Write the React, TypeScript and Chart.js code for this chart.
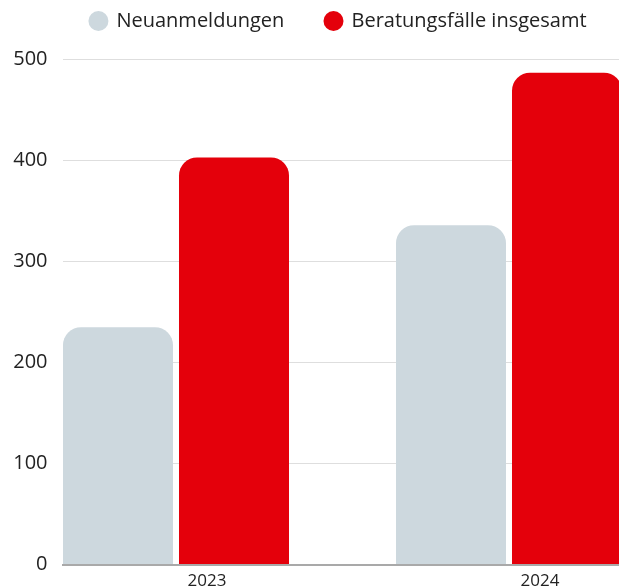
import React, { useEffect, useRef } from 'react';
import { Chart, registerables } from 'chart.js';

Chart.register(...registerables);

// ---- data ----
const years = ['2023', '2024'];
const seriesLabels = ['Neuanmeldungen', 'Beratungsfälle insgesamt'];
const neuanmeldungen = [235, 336];
const beratungsfaelle = [403, 487];
const yTicks = [0, 100, 200, 300, 400, 500];

// ---- styles ----
const GREY = '#CDD8DE';
const RED = '#E4000B';
const TEXT = '#222222';
const FONT = "'Open Sans', 'Noto Sans', sans-serif";
const CANVAS_W = 677;
const CANVAS_H = 597;
const LEGEND_HEIGHT = 89.7;

export default function App() {
  const ref = useRef<HTMLCanvasElement>(null);

  useEffect(() => {
    const canvas = ref.current;
    if (!canvas) return;
    Chart.defaults.font.family = FONT;

    const legendSizer = {
      id: 'legendSizer',
      afterInit(chart: any) {
        const lg = chart.legend;
        if (!lg) return;
        const orig = lg.fit.bind(lg);
        lg.fit = function () {
          orig();
          if (lg.options && lg.options.display) lg.height = LEGEND_HEIGHT;
        };
      },
    };

    const yearNums = years.map((y) => Number(y));
    const xMin = yearNums[0] - 0.34084;
    const xMax = yearNums[yearNums.length - 1] + 0.5045;

    const common = {
      borderWidth: 0,
      borderRadius: 18,
      borderSkipped: 'start' as const,
      categoryPercentage: 0.6967,
      barPercentage: 0.9483,
      pointStyle: 'circle' as const,
    };

    const chart = new Chart(canvas, {
      type: 'bar',
      data: {
        labels: years,
        datasets: [
          { ...common, label: seriesLabels[0], data: neuanmeldungen, backgroundColor: GREY },
          { ...common, label: seriesLabels[1], data: beratungsfaelle, backgroundColor: RED },
        ],
      },
      options: {
        responsive: false,
        animation: false,
        devicePixelRatio: 1,
        layout: { padding: { top: -30.2, left: 0, right: 0, bottom: 0 } },
        plugins: {
          legend: {
            position: 'top',
            align: 'center',
            labels: {
              usePointStyle: true,
              pointStyle: 'circle',
              boxWidth: 16,
              boxHeight: 14.14,
              padding: 41.2,
              color: TEXT,
              font: { family: FONT, size: 20 },
            },
          },
          tooltip: { enabled: false },
          title: { display: false },
        },
        scales: {
          x: {
            type: 'linear',
            min: xMin,
            max: xMax,
            offset: false,
            grid: { display: false, drawTicks: false, offset: false },
            border: { display: true, color: '#a9a9a9', width: 2 },
            afterBuildTicks: (axis: any) => {
              axis.ticks = yearNums.map((v) => ({ value: v }));
            },
            ticks: {
              padding: 6,
              labelOffset: 31,
              color: TEXT,
              font: { family: FONT, size: 17 },
              maxRotation: 0,
              autoSkip: false,
              callback: (v: any) => String(v),
            },
          },
          y: {
            min: yTicks[0],
            max: yTicks[yTicks.length - 1],
            afterFit: (s: any) => {
              s.width = 62.5;
            },
            afterBuildTicks: (axis: any) => {
              axis.ticks = yTicks.map((v) => ({ value: v }));
            },
            grid: {
              color: (ctx: any) => (ctx.tick && ctx.tick.value === 0 ? 'rgba(0,0,0,0)' : '#dedede'),
              lineWidth: 1,
              drawTicks: false,
            },
            border: { display: false },
            ticks: {
              padding: 15,
              color: TEXT,
              font: { family: FONT, size: 20 },
              callback: (v: any) => String(v),
            },
          },
        },
      } as any,
      plugins: [legendSizer],
    });

    return () => chart.destroy();
  }, []);

  return (
    <div
      style={{
        position: 'fixed',
        left: 0,
        top: 0,
        width: 619,
        height: 586,
        overflow: 'hidden',
        background: '#ffffff',
      }}
    >
      <canvas ref={ref} width={CANVAS_W} height={CANVAS_H} style={{ display: 'block' }} />
    </div>
  );
}
